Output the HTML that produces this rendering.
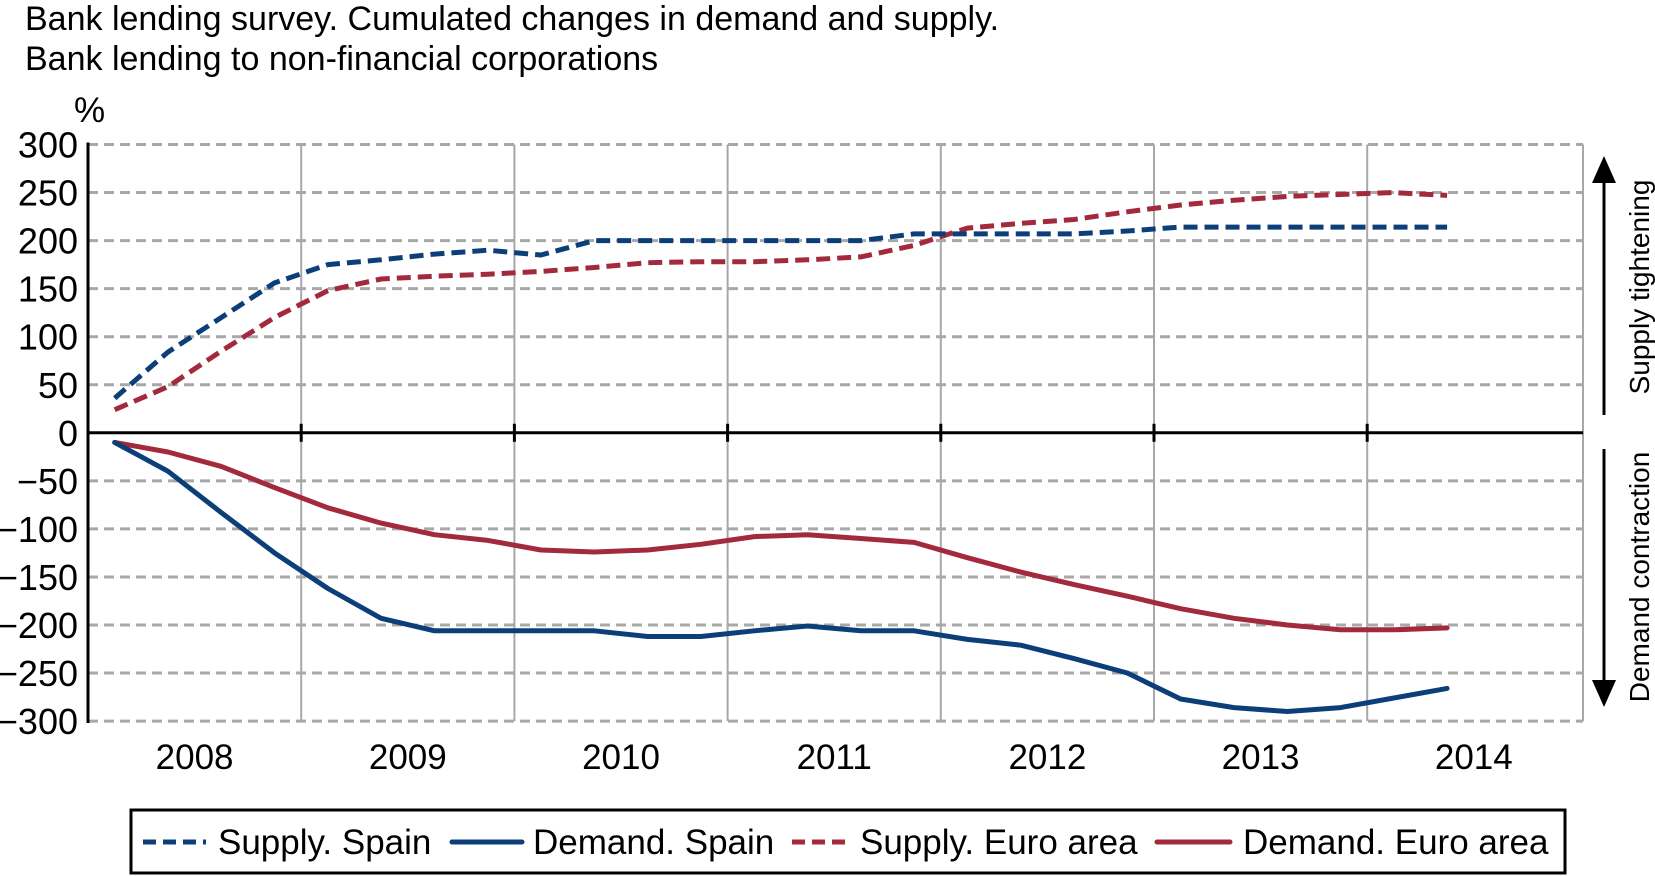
<!DOCTYPE html>
<html><head><meta charset="utf-8"><style>
html,body{margin:0;padding:0;background:#fff;}
svg{display:block;font-family:"Liberation Sans",Arial,sans-serif;}
</style></head><body>
<svg id="chart" width="1655" height="876" viewBox="0 0 1655 876">
<text x="25" y="30" font-size="34">Bank lending survey. Cumulated changes in demand and supply.</text>
<text x="25" y="70" font-size="34">Bank lending to non-financial corporations</text>
<text x="74" y="122" font-size="35">%</text>
<g id="grid"></g>
<g id="axes"></g>
<g id="series"></g>
<g>
<line x1="1604" y1="180" x2="1604" y2="415" stroke="#000" stroke-width="3"/>
<polygon points="1592,183 1616,183 1604,156" fill="#000"/>
<text transform="translate(1649,287) rotate(-90)" text-anchor="middle" font-size="28">Supply tightening</text>
</g>
<g>
<line x1="1604" y1="449" x2="1604" y2="683" stroke="#000" stroke-width="3"/>
<polygon points="1592,680 1616,680 1604,707" fill="#000"/>
<text transform="translate(1649,577) rotate(-90)" text-anchor="middle" font-size="28">Demand contraction</text>
</g>
<g>
<rect x="131" y="810" width="1434" height="63" fill="#fff" stroke="#000" stroke-width="3"/>
<g><line x1="143" y1="842" x2="206" y2="842" stroke="#0c3f7a" stroke-width="5" stroke-dasharray="13,7"/><text x="218" y="854" font-size="35">Supply. Spain</text></g>
<g><line x1="452" y1="842" x2="522" y2="842" stroke="#0c3f7a" stroke-width="5" stroke-linecap="round"/><text x="533" y="854" font-size="35">Demand. Spain</text></g>
<g><line x1="792" y1="842" x2="850" y2="842" stroke="#a32a3c" stroke-width="5" stroke-dasharray="13,7"/><text x="860" y="854" font-size="35">Supply. Euro area</text></g>
<g><line x1="1157" y1="842" x2="1230" y2="842" stroke="#a32a3c" stroke-width="5" stroke-linecap="round"/><text x="1243" y="854" font-size="35">Demand. Euro area</text></g>
</g>
</svg>
<script>
const years = [2008,2009,2010,2011,2012,2013,2014];
const yTicks = [300,250,200,150,100,50,0,-50,-100,-150,-200,-250,-300];
const supplySpain = [36,84,120,156,175,180,186,190,185,200,200,200,200,200,200,207,207,207,207,210,214,214,214,214,214,214];
const supplyEuro = [24,48,85,120,148,160,163,165,168,172,177,178,178,180,183,195,213,218,222,230,237,242,246,248,250,247];
const demandSpain = [-10,-40,-83,-125,-162,-193,-206,-206,-206,-206,-212,-212,-206,-201,-206,-206,-215,-221,-235,-250,-277,-286,-290,-286,-276,-266];
const demandEuro = [-10,-20,-35,-57,-78,-94,-106,-112,-122,-124,-122,-116,-108,-106,-110,-114,-130,-145,-158,-170,-183,-193,-200,-205,-205,-203];

const NS='http://www.w3.org/2000/svg';
const X0=88, YW=213.2, RIGHT=1583, TOP=144.5, ZERO=432.8, BOT=721;
const xYear = t => X0 + (t-2008)*YW;
const xQ = i => xYear(2008 + (i+0.5)/4);
const y = v => ZERO - v*(ZERO-TOP)/300;
function mk(tag, attrs, parent){const e=document.createElementNS(NS,tag);for(const k in attrs)e.setAttribute(k,attrs[k]);parent.appendChild(e);return e;}
const grid=document.getElementById('grid'), axes=document.getElementById('axes'), series=document.getElementById('series');

yTicks.forEach(v=>{
  if(v!==0){const l=mk('line',{x1:X0,x2:RIGHT,y1:y(v),y2:y(v),stroke:'#a8a8a8','stroke-width':3,'stroke-dasharray':'10,6'},grid);
  
  }
  const t=mk('text',{x:78,y:y(v)+13,'text-anchor':'end','font-size':36},axes);
  t.textContent = v<0 ? '\u2212'+(-v) : String(v);
  
  
});
years.slice(1).forEach(yr=>{
  const l=mk('line',{x1:xYear(yr),x2:xYear(yr),y1:TOP,y2:BOT,stroke:'#a8a8a8','stroke-width':2},grid);
  
  
  const tk=mk('line',{x1:xYear(yr),x2:xYear(yr),y1:ZERO-9,y2:ZERO+9,stroke:'#000','stroke-width':3},axes);
  
  
});
const rb=mk('line',{x1:RIGHT,x2:RIGHT,y1:TOP,y2:BOT,stroke:'#a8a8a8','stroke-width':2},grid);


years.forEach(yr=>{
  const t=mk('text',{x:xYear(yr+0.5),y:769,'text-anchor':'middle','font-size':35},axes);
  t.textContent=yr;
  
  
});
const ya=mk('line',{x1:X0,x2:X0,y1:TOP-2,y2:BOT+2,stroke:'#000','stroke-width':3},axes);


const za=mk('line',{x1:X0,x2:RIGHT,y1:ZERO,y2:ZERO,stroke:'#000','stroke-width':3},axes);



function draw(data,color,dash,name){
  const pts=data.map((v,i)=>xQ(i).toFixed(1)+','+y(v).toFixed(1)).join(' ');
  const a={points:pts,fill:'none',stroke:color,'stroke-width':5,'stroke-linejoin':'round','stroke-linecap':dash?'butt':'round'};
  if(dash)a['stroke-dasharray']='14,7';
  const p=mk('polyline',a,series);
  
  
}
draw(supplyEuro,'#a32a3c',true,'line-supply-euro-area');
draw(supplySpain,'#0c3f7a',true,'line-supply-spain');
draw(demandEuro,'#a32a3c',false,'line-demand-euro-area');
draw(demandSpain,'#0c3f7a',false,'line-demand-spain');
</script>
</body></html>
